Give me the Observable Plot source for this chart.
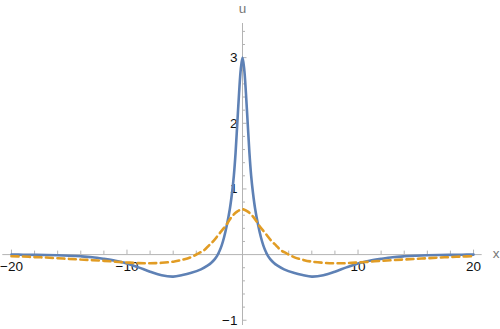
<!DOCTYPE html>
<html>
<head>
<meta charset="utf-8">
<script src="https://cdn.jsdelivr.net/npm/d3@7"></script>
<script src="https://cdn.jsdelivr.net/npm/@observablehq/plot@0.6"></script>
<style>
  html, body { margin: 0; padding: 0; background: #fff; }
  svg { display: block; }
</style>
</head>
<body>
<div id="chart"></div>
<script>
// ---- data ----
const xs = [-20,-19,-18,-17,-16,-15,-14,-13,-12,-11,-10,-9,-8,-7,-6,-5.2,-4.5,-3.6,-3,-2.7,-2.4,-2.2,-2,-1.8,-1.6,-1.33,-1.1,-0.9,-0.75,-0.6,-0.45,-0.3,-0.15,0,
            0.15,0.3,0.45,0.6,0.75,0.9,1.1,1.33,1.6,1.8,2,2.2,2.4,2.7,3,3.6,4.5,5.2,6,7,8,9,10,11,12,13,14,15,16,17,18,19,20];
const blueU = [0.0,-0.002,-0.004,-0.007,-0.011,-0.017,-0.026,-0.04,-0.065,-0.095,-0.135,-0.195,-0.26,-0.315,-0.335,-0.31,-0.28,-0.225,-0.165,-0.125,-0.07,-0.02,0.05,0.14,0.26,0.47,0.69,0.95,1.2,1.55,2.0,2.45,2.82,3.0,
               2.82,2.45,2.0,1.55,1.2,0.95,0.69,0.47,0.26,0.14,0.05,-0.02,-0.07,-0.125,-0.165,-0.225,-0.28,-0.31,-0.335,-0.315,-0.26,-0.195,-0.135,-0.095,-0.065,-0.04,-0.026,-0.017,-0.011,-0.007,-0.004,-0.002,0.0];
const orangeX = [-20,-19,-18,-17,-16,-15,-14,-13,-12,-11,-10,-9,-8,-7,-5.9,-5.2,-4.5,-3.8,-3.3,-2.9,-2.5,-2,-1.45,-1,-0.5,0,
                 0.5,1,1.45,2,2.5,2.9,3.3,3.8,4.5,5.2,5.9,7,8,9,10,11,12,13,14,15,16,17,18,19,20];
const orangeU = [-0.025,-0.03,-0.038,-0.045,-0.055,-0.065,-0.075,-0.085,-0.095,-0.108,-0.12,-0.13,-0.132,-0.125,-0.105,-0.078,-0.042,0.02,0.07,0.14,0.21,0.32,0.44,0.56,0.65,0.69,
                 0.65,0.56,0.44,0.32,0.21,0.14,0.07,0.02,-0.042,-0.078,-0.105,-0.125,-0.132,-0.13,-0.12,-0.108,-0.095,-0.085,-0.075,-0.065,-0.055,-0.045,-0.038,-0.03,-0.025];
const xTicks = [-20,-18,-16,-14,-12,-10,-8,-6,-4,-2,2,4,6,8,10,12,14,16,18,20];
const xMajor = [-20,-10,10,20];
const xLabels = ["\u221220","\u221210","10","20"];
const yTicks = [-1,-0.8,-0.6,-0.4,-0.2,0.2,0.4,0.6,0.8,1,1.2,1.4,1.6,1.8,2,2.2,2.4,2.6,2.8,3,3.2,3.4];
const yMajor = [-1,1,2,3];
const yLabels = ["\u22121","1","2","3"];

// ---- layout ----
const W = 500, H = 329;
const mL = 2.3, mR = 18.3, mT = 23, mB = 4;
const xDom = [-20.75, 20.75], yDom = [-1.08, 3.52];
const pxX = (W - mL - mR) / (xDom[1] - xDom[0]);
const pxY = (H - mT - mB) / (yDom[1] - yDom[0]);

const blue = xs.map((x, i) => ({x, u: blueU[i]}));
const orange = orangeX.map((x, i) => ({x, u: orangeU[i]}));
const axisColor = "#b3b3b3";
const font = "'Liberation Sans', Arial, sans-serif";

const plot = Plot.plot({
  width: W, height: H,
  marginLeft: mL, marginRight: mR, marginTop: mT, marginBottom: mB,
  x: {domain: xDom, axis: null},
  y: {domain: yDom, axis: null},
  style: {fontFamily: font, background: "white", overflow: "visible"},
  marks: [
    // axes lines
    Plot.ruleY([0], {x1: xDom[0], x2: xDom[1], stroke: axisColor, strokeWidth: 1}),
    Plot.ruleX([0], {y1: yDom[0], y2: yDom[1], stroke: axisColor, strokeWidth: 1}),
    // x ticks (pointing up)
    Plot.ruleX(xTicks, {x: d => d, y1: 0, y2: d => (xMajor.includes(d) ? 4.5 : 3.5) / pxY, stroke: axisColor, strokeWidth: 1}),
    // y ticks (pointing right)
    Plot.ruleY(yTicks, {y: d => d, x1: 0, x2: d => (yMajor.includes(d) ? 4.5 : 3) / pxX, stroke: axisColor, strokeWidth: 1}),
    // tick labels
    Plot.text(xMajor, {x: d => d, y: 0, text: (d, i) => xLabels[i], dy: 12, fontSize: 13.5, fill: "#111", textAnchor: "middle"}),
    Plot.text(yMajor, {x: 0, y: d => d, text: (d, i) => yLabels[i], dx: -5, fontSize: 13.5, fill: "#111", textAnchor: "end"}),
    // axis labels
    Plot.text(["u"], {x: 0, y: yDom[1], text: d => d, dy: -15, fontSize: 13.5, fill: "#777", textAnchor: "middle"}),
    Plot.text(["x"], {x: xDom[1], y: 0, text: d => d, dx: 14, dy: -1, fontSize: 13.5, fill: "#777", textAnchor: "middle"}),
    // curves
    Plot.line(blue, {x: "x", y: "u", stroke: "#5E81B5", strokeWidth: 2.6, curve: "catmull-rom"}),
    Plot.line(orange, {x: "x", y: "u", stroke: "#E19C24", strokeWidth: 2.6, strokeDasharray: "7,4.5", curve: "catmull-rom"})
  ]
});
document.getElementById("chart").appendChild(plot);
</script>
</body>
</html>
